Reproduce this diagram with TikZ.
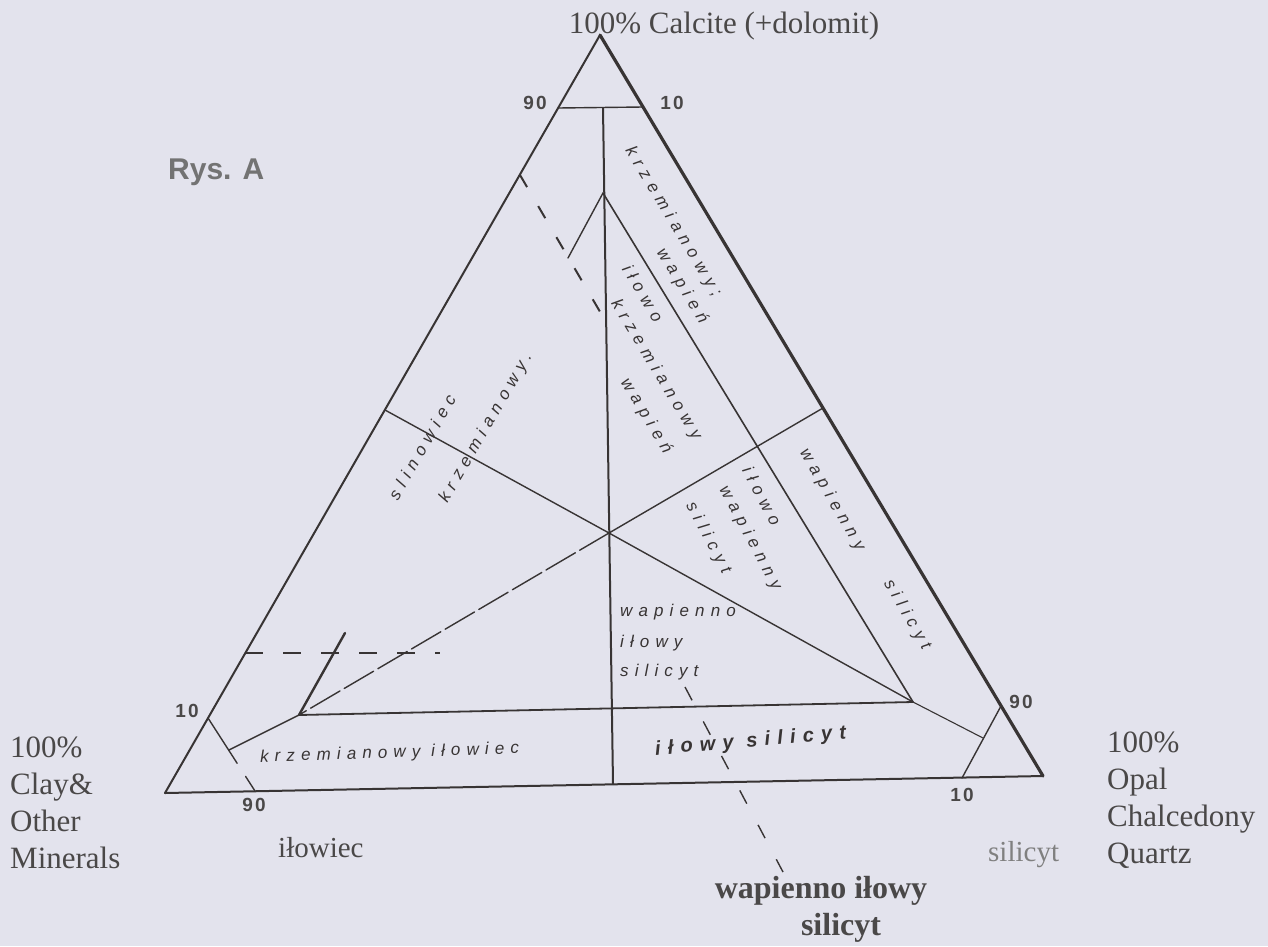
\documentclass[tikz,border=0pt]{standalone}
\usepackage{fontspec}
\setmainfont{Liberation Serif}
\setsansfont{Liberation Sans}
\newfontfamily\handfont[LetterSpace=36]{Liberation Sans}
\newfontfamily\numfont[LetterSpace=12]{Liberation Sans}
\usetikzlibrary{calc}

\definecolor{paper}{HTML}{E3E3ED}
\definecolor{ink}{HTML}{383434}
\definecolor{printgray}{HTML}{4A4848}

\tikzset{
  side/.style={ink, line width=2pt, line cap=round},
  rule/.style={ink, line width=1.4pt, line cap=round},
  gap/.style={ink, line width=1.4pt, dash pattern=on 14pt off 22pt},
  hand/.style={font=\handfont\itshape\fontsize{17}{19}\selectfont, text=ink, inner sep=0pt},
  bighand/.style={font=\handfont\itshape\bfseries\fontsize{20}{22}\selectfont, text=ink, inner sep=0pt},
  num/.style={font=\numfont\bfseries\fontsize{19}{21}\selectfont, text=printgray, inner sep=0pt},
  corner/.style={font=\fontsize{31}{37}\selectfont, text=printgray, align=left, inner sep=0pt}
}

\begin{document}
\begin{tikzpicture}[x=1pt,y=-1pt]
% paper
\fill[paper] (0,0) rectangle (1268,946);
\useasboundingbox (0,0) rectangle (1268,946);
% corners of the triangle
\coordinate (ca) at (600,35);
\coordinate (cl) at (165,793);
\coordinate (op) at (1043,776);
% points on the sides
\coordinate (t90) at (558,108);
\coordinate (t10) at (643,107);
\coordinate (lp) at (385,410);
\coordinate (rp) at (823,408);
\coordinate (l10) at (208,718);
\coordinate (l90) at (255,791);
\coordinate (r90) at (1001,706);
\coordinate (r10) at (962,778);
\coordinate (vb) at (613,784);
% inner points
\coordinate (vt) at (603,108);
\coordinate (ia) at (603,193);
\coordinate (g) at (609,533);
\coordinate (p) at (913,702);
\coordinate (q) at (299,715);
\coordinate (qt) at (345,633);
\coordinate (lt) at (568,258);
\coordinate (pe) at (983,738);
\coordinate (qe) at (229,750);
\coordinate (ld) at (520,175);
\coordinate (vd) at (606,322);
\coordinate (lh) at (245,653);
\coordinate (rh) at (440,653);
\coordinate (la) at (685,687);
\coordinate (lb) at (783,872);
% Sides
\draw[side] (cl) -- (ca);
\draw[side, line width=3.2pt] (ca) -- (op);
\draw[side] (cl) -- (op);
% 90/10 cut lines
\draw[rule] (t90) -- (t10);
\draw[rule] (l10) -- ($(l10)!0.62!(l90)$);
\draw[rule] ($(l10)!0.8!(l90)$) -- (l90);
\draw[rule] (r90) -- (r10);
% Field boundaries
\draw[side] (vt) -- (vb);
\draw[rule, line width=1.6pt] (ia) -- (p);
\draw[rule] (ia) -- (lt);
\draw[rule, line width=1.8pt] (q) -- (p);
\draw[side, line width=2.4pt] (q) -- (qt);
\draw[rule] (lp) -- (g) -- (p);
\draw[rule, line width=1.1pt] (p) -- (pe);
\draw[rule] (rp) -- (g);
\draw[rule, dash pattern=on 34pt off 5pt] (g) -- (q);
\draw[rule] (q) -- (qe);
% dashed lines
\draw[gap, line width=2pt] (ld) -- (vd);
\draw[gap, dash pattern=on 18pt off 20pt] (lh) -- (rh);
\draw[gap, dash pattern=on 15pt off 24pt] (la) -- (lb);
% side percentages
\foreach \x/\y/\t in {535/103/90, 672/103/10, 187/711/10, 254/805/90, 1021/702/90, 962/795/10}
  \node[num] (n\x) at (\x,\y) {\t};
% handwritten field names
\foreach \x/\y/\a/\t [count=\i] in {
  673/222/-59/{krzemianowy;},
  682/286/-59/{wapień},
  643/293/-59/{iłowo},
  656/370/-59/{krzemianowy},
  646/416/-59/{wapień},
  422/447/60/{slinowiec},
  486/428/60/{krzemianowy.},
  762/496/-62/{iłowo},
  750/538/-62/{wapienny},
  708/538/-62/{silicyt},
  832/500/-60/{wapienny},
  907/615/-60/{silicyt}}
  \node[hand, rotate=\a] (h\i) at (\x,\y) {\t};
\node[hand, anchor=west] (wa) at (620,612) {wapienno};
\node[hand, anchor=west] (wb) at (620,643) {iłowy};
\node[hand, anchor=west] (wc) at (620,672) {silicyt};
\node[hand, anchor=west, rotate=2] (ki) at (260,758) {krzemianowy iłowiec};
\node[bighand, anchor=west, rotate=5] (is) at (655,750) {iłowy silicyt};
% printed labels
\node[corner, anchor=base] (calc) at (724,33) {100\% Calcite (+dolomit)};
\node[corner, anchor=north west] (clay) at (10,737) {100\%\\Clay\&\\Other\\Minerals};
\node[corner, anchor=north west] (opal) at (1107,732) {100\%\\Opal\\Chalcedony\\Quartz};
\node[corner, anchor=base west, font=\fontsize{29}{34}\selectfont] (ilo) at (278,857) {iłowiec};
\node[corner, anchor=base west, font=\fontsize{29}{34}\selectfont, text=gray] (sil) at (988,861) {silicyt};
\node[corner, anchor=base, font=\bfseries\fontsize{32}{36}\selectfont] (wis) at (821,898) {wapienno iłowy};
\node[corner, anchor=base, font=\bfseries\fontsize{32}{36}\selectfont] (wis2) at (841,935) {silicyt};
\node[anchor=base west, inner sep=0pt, font=\sffamily\bfseries\fontsize{30}{34}\selectfont, text=gray!90!black] (rys) at (168,179) {Rys. A};
\end{tikzpicture}
\end{document}
